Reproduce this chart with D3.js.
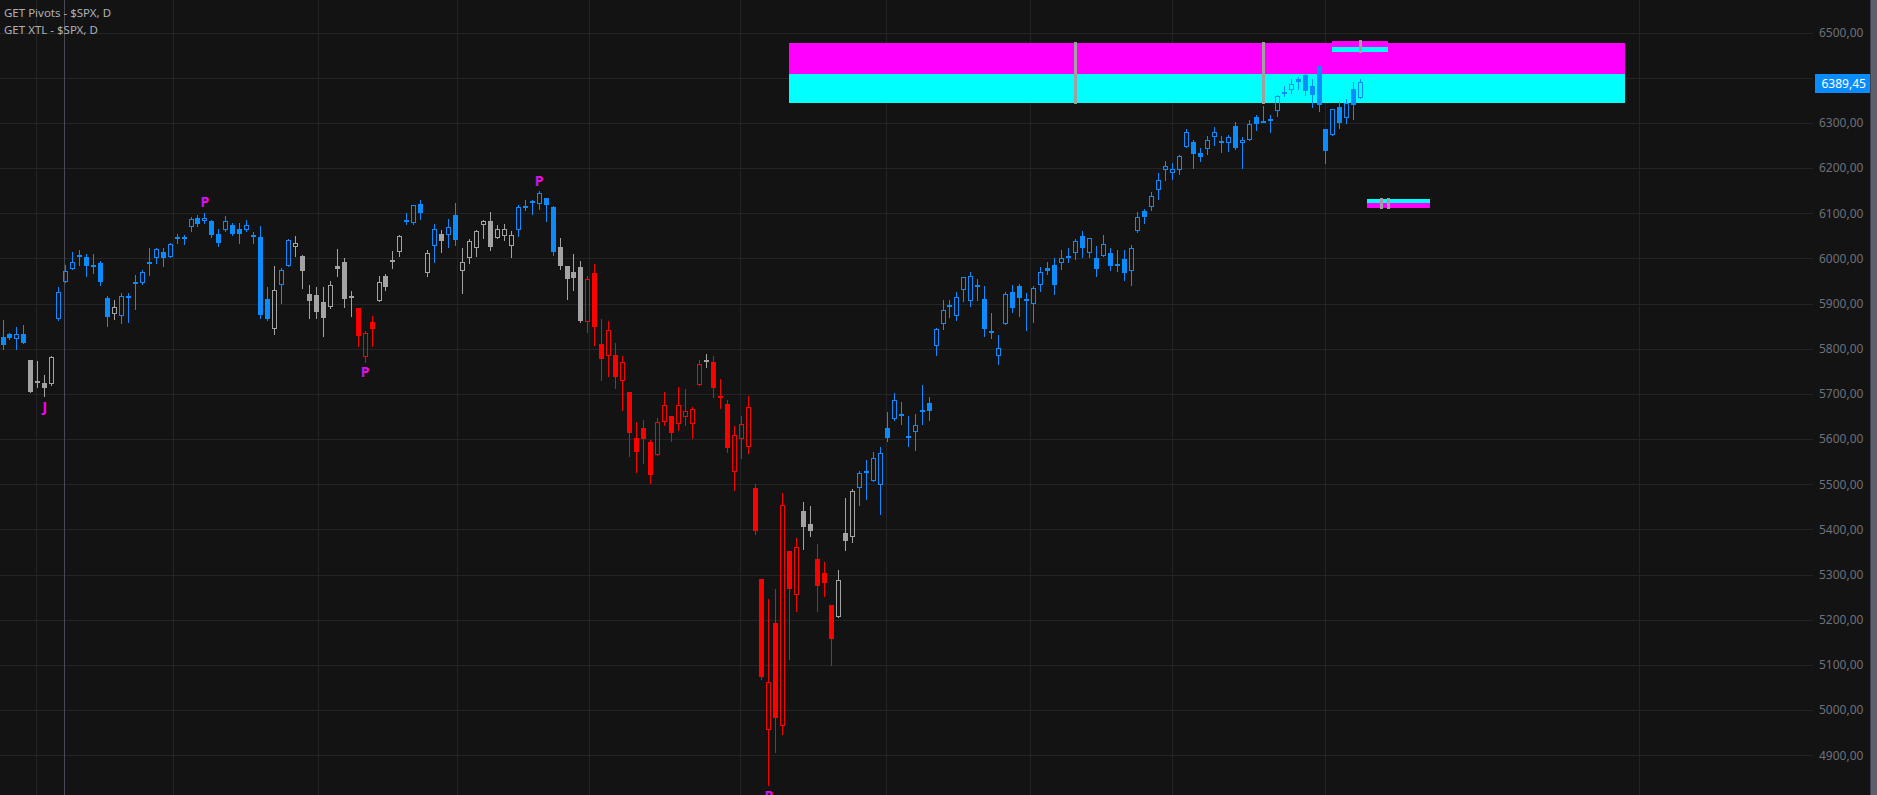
<!DOCTYPE html>
<html><head><meta charset="utf-8">
<script src="https://cdn.jsdelivr.net/npm/d3@7"></script>
<style>
html,body{margin:0;padding:0;background:#131313;overflow:hidden}
svg{display:block}
</style></head><body>
<svg id="c" width="1877" height="795"></svg>
<script>
// ---------- DATA (S&P 500 daily) ----------
const opens = [5825,5833,5821,5833,5775,5723,5723,5722,5865,5948,5977,6007,6003,5985,5989,5912,5876,5872,5917,5943,
5945,5988,6000,6013,6004,6042,6044,6070,6089,6082,6083,6055,6063,6073,6066,6063,6052,6047,5911,5843,
5940,5984,6026,6005,5921,5919,5903,5892,5983,5992,5912,5889,5782,5859,5906,5962,5996,6015,6082,6078,
6120,5968,6028,6055,6051,6096,5971,6000,6022,6073,6083,6046,6050,6027,6062,6113,6122,6120,6134,6114,
6025,5982,5970,5981,5858,5968,5810,5783,5785,5728,5704,5602,5624,5593,5564,5637,5652,5633,5648,5633,
5719,5771,5770,5695,5677,5528,5599,5582,5491,5289,4955,5192,4965,5351,5255,5440,5411,5334,5303,5232,
5207,5393,5382,5491,5526,5508,5499,5624,5645,5655,5606,5615,5662,5679,5807,5854,5893,5872,5929,5905,
5942,5909,5840,5783,5854,5925,5938,5905,5898,5940,5978,5985,5989,6003,6011,6049,6011,6000,6005,6011,
5987,5998,5971,6061,6105,6113,6152,6195,6188,6195,6247,6257,6233,6243,6268,6257,6256,6294,6255,6263,
6312,6304,6306,6327,6366,6372,6396,6405,6381,6426,6286,6272,6336,6310,6374,6356];
const highs = [5864,5835,5847,5852,5776,5773,5742,5784,5936,5985,6013,6019,6010,6010,5994,5917,5908,5923,5923,5963,
5974,6022,6024,6022,6035,6053,6052,6091,6096,6101,6085,6064,6094,6079,6078,6085,6058,6071,5937,5983,
5979,6042,6050,6007,5941,5937,5937,5950,6021,6001,5928,5889,5839,5872,5961,5965,6017,6052,6100,6118,
6129,6019,6076,6063,6086,6122,6022,6042,6063,6085,6103,6074,6076,6061,6118,6129,6129,6148,6134,6116,
6045,5982,6010,5994,5961,5987,5866,5861,5813,5784,5704,5638,5642,5598,5647,5704,5652,5715,5711,5671,
5775,5788,5784,5733,5686,5629,5651,5695,5500,5289,5245,5268,5480,5351,5380,5460,5451,5368,5327,5232,
5310,5469,5489,5529,5553,5571,5582,5659,5701,5683,5650,5655,5719,5692,5846,5908,5908,5925,5958,5970,
5954,5939,5879,5830,5925,5941,5943,5923,5939,5981,5992,6000,6019,6022,6042,6061,6044,6027,6052,6022,
6019,6019,6029,6102,6109,6146,6189,6216,6210,6228,6286,6262,6244,6271,6291,6271,6273,6302,6268,6307,
6317,6337,6317,6362,6381,6397,6402,6410,6397,6426,6286,6330,6347,6353,6390,6397];
const lows = [5799,5822,5799,5812,5703,5716,5695,5720,5863,5947,5976,5985,5960,5968,5941,5851,5865,5856,5860,5887,
5943,5963,5989,5984,6002,6035,6032,6061,6072,6079,6048,6028,6061,6052,6035,6060,6035,5867,5863,5832,
5902,5982,6006,5934,5869,5869,5829,5889,5960,5892,5873,5806,5771,5805,5906,5931,5978,6005,6075,6075,
6087,5961,5993,6013,6026,6030,5924,5990,6005,6046,6019,6044,6041,6002,6050,6108,6099,6110,6083,6008,
5976,5909,5931,5858,5838,5809,5731,5740,5712,5665,5563,5528,5546,5503,5564,5630,5596,5621,5631,5603,
5719,5760,5694,5669,5572,5488,5557,5570,5390,5069,4833,4908,4948,5114,5220,5357,5386,5220,5253,5100,
5207,5354,5371,5455,5468,5506,5433,5596,5641,5634,5585,5576,5634,5643,5785,5844,5870,5864,5906,5894,
5908,5829,5824,5767,5854,5882,5873,5842,5860,5928,5966,5920,5977,5992,5999,6002,6004,5962,6005,5975,
5971,5951,5942,6059,6079,6106,6132,6174,6176,6187,6247,6201,6216,6231,6252,6236,6238,6241,6201,6261,
6285,6303,6280,6316,6360,6365,6375,6362,6336,6327,6212,6272,6289,6300,6309,6356];
const closes = [5808,5824,5832,5813,5704,5729,5714,5781,5926,5971,5993,6002,5984,5982,5948,5871,5892,5916,5914,5947,
5969,5991,6021,6000,6031,6047,6048,6087,6075,6089,6052,6035,6082,6053,6053,6073,6049,5874,5866,5929,
5974,6041,6035,5971,5906,5882,5869,5940,5976,5909,5917,5827,5834,5843,5948,5937,5993,6050,6085,6117,
6101,6011,6066,6039,6070,6041,5993,6038,6060,6082,6026,6064,6066,6051,6113,6115,6128,6144,6119,6013,
5984,5955,5957,5862,5954,5849,5778,5841,5738,5770,5614,5572,5599,5521,5637,5675,5614,5675,5661,5666,
5765,5774,5712,5692,5581,5610,5633,5670,5397,5074,5061,4983,5455,5269,5362,5406,5397,5275,5282,5158,
5287,5375,5484,5524,5529,5559,5568,5603,5686,5652,5604,5630,5664,5661,5843,5885,5896,5915,5958,5962,
5940,5844,5838,5801,5920,5889,5913,5909,5934,5969,5971,5940,6000,6005,6038,6022,6044,5977,6031,5984,
5982,5968,6024,6091,6092,6139,6173,6204,6197,6226,6279,6230,6225,6261,6279,6259,6268,6245,6263,6297,
6298,6305,6308,6359,6368,6387,6391,6371,6362,6340,6238,6330,6300,6343,6340,6389.45];
// trend state runs (colour of each bar), in order: [state, number of bars]
const stateRuns = [["up",4],["neutral",4],["up",8],["neutral",1],["up",22],["neutral",1],["up",2],["neutral",9],
["down",3],["neutral",4],["up",3],["neutral",1],["up",1],["neutral",1],["up",2],["neutral",8],["up",6],["neutral",4],
["down",17],["neutral",1],["down",13],["neutral",2],["down",3],["neutral",3],["up",73]];
// pivot labels: bar index, text, placement
const pivotBars = [6,29,52,77,110];
const pivotTexts = ["J","P","P","P","P"];
const pivotAbove = [false,true,false,true,false];
// price axis ticks
const priceTicks = [4900,5000,5100,5200,5300,5400,5500,5600,5700,5800,5900,6000,6100,6200,6300,6400,6500];
const lastPrice = 6389.45;
// session (month) separators, in bar units
const sessionBreaks = [4.85,24.53,45.35,65.32,84.28,105.92,126.92,147.61,168.0,189.97,235.03];
const markerBar = 8.83;
// XTL zones: start bar, end bar, upper, middle, lower price; upper band colour first
const zoneStart = [113,191,196];
const zoneEnd = [233,199,205];
const zoneTop = [6477,6481,6131];
const zoneMid = [6409,6469,6122.5];
const zoneBot = [6345,6457,6111.5];
const zoneUpperColor = ["#ff00ff","#ff00ff","#00ffff"];
const zoneLowerColor = ["#00ffff","#00ffff","#ff00ff"];
// grey pivot bars inside the zones
const gbarBar = [154,181,195,198,199];
const gbarTop = [6479,6479,6483,6134,6134];
const gbarBot = [6342,6342,6455,6109,6109];

// ---------- DRAW ----------
const W=1877,H=795;
const colors={up:"#0a8cff",neutral:"#a3a3a3",down:"#ff0000"};
const states=[]; stateRuns.forEach(([s,n])=>{for(let k=0;k<n;k++)states.push(s);});
const x=d3.scaleLinear().domain([0,195]).range([2.5,1360.3]);
const y=d3.scaleLinear().domain([4900,6500]).range([755.2,32.5]);
const svg=d3.select("#c");
const bg="#131313";
svg.append("rect").attr("width",W).attr("height",H).attr("fill",bg);

const defs=svg.append("defs");
const gr=defs.append("linearGradient").attr("id","pg").attr("x1","0").attr("x2","1").attr("y1","0").attr("y2","0");
gr.append("stop").attr("offset","0").attr("stop-color","#8a2ee6");
gr.append("stop").attr("offset","0.55").attr("stop-color","#ff00ff");

// grid
const grid=svg.append("g").attr("shape-rendering","crispEdges");
grid.selectAll("line.h").data(priceTicks).join("line").attr("class","h")
 .attr("x1",0).attr("x2",1813).attr("y1",d=>Math.round(y(d))+0.5).attr("y2",d=>Math.round(y(d))+0.5)
 .attr("stroke","#232428");
grid.selectAll("line.v").data(sessionBreaks).join("line").attr("class","v")
 .attr("x1",d=>Math.round(x(d))+0.5).attr("x2",d=>Math.round(x(d))+0.5).attr("y1",0).attr("y2",H)
 .attr("stroke","#232428");
grid.append("line").attr("x1",Math.round(x(markerBar))+0.5).attr("x2",Math.round(x(markerBar))+0.5)
 .attr("y1",0).attr("y2",H).attr("stroke","#474a53");

// zones (behind candles)
const zg=svg.append("g").attr("shape-rendering","crispEdges");
zoneStart.forEach((s,k)=>{
  const x0=Math.round(x(s)), x1=Math.round(x(zoneEnd[k]));
  const yt=Math.round(y(zoneTop[k])), ym=Math.round(y(zoneMid[k])), yb=Math.round(y(zoneBot[k]));
  zg.append("rect").attr("x",x0).attr("y",yt).attr("width",x1-x0).attr("height",ym-yt).attr("fill",zoneUpperColor[k]);
  zg.append("rect").attr("x",x0).attr("y",ym).attr("width",x1-x0).attr("height",yb-ym).attr("fill",zoneLowerColor[k]);
});
// grey bars
zg.selectAll("rect.g").data(gbarBar).join("rect").attr("class","g")
 .attr("x",d=>Math.round(x(d))-1).attr("width",3)
 .attr("y",(d,k)=>Math.round(y(gbarTop[k]))).attr("height",(d,k)=>Math.round(y(gbarBot[k]))-Math.round(y(gbarTop[k])))
 .attr("fill","#a0a0a0");

// candles
const data=opens.map((o,i)=>{
  const cx=Math.round(x(i));
  const yT=Math.round(y(Math.max(o,closes[i]))), yB=Math.round(y(Math.min(o,closes[i])));
  return {i,o,h:highs[i],l:lows[i],c:closes[i],s:states[i],cx,yT,yB:Math.max(yB,yT+1),
          yH:Math.round(y(highs[i])),yL:Math.round(y(lows[i]))};
});
const cg=svg.append("g").attr("shape-rendering","crispEdges");
cg.selectAll("line.wu").data(data).join("line").attr("class","wu")
 .attr("x1",d=>d.cx+0.5).attr("x2",d=>d.cx+0.5)
 .attr("y1",d=>d.yH).attr("y2",d=>d.yT)
 .attr("stroke",d=>colors[d.s]);
cg.selectAll("line.wl").data(data).join("line").attr("class","wl")
 .attr("x1",d=>d.cx+0.5).attr("x2",d=>d.cx+0.5)
 .attr("y1",d=>d.yB).attr("y2",d=>Math.max(d.yL+1,d.yB))
 .attr("stroke",d=>colors[d.s]);
cg.selectAll("rect.f").data(data.filter(d=>d.c<d.o)).join("rect").attr("class","f")
 .attr("x",d=>d.cx-2).attr("width",5)
 .attr("y",d=>d.yT)
 .attr("height",d=>Math.max(2,d.yB-d.yT))
 .attr("fill",d=>colors[d.s]);
cg.selectAll("rect.e").data(data.filter(d=>d.c>=d.o)).join("rect").attr("class","e")
 .attr("x",d=>d.cx-1.5).attr("width",4)
 .attr("y",d=>d.yT+0.5)
 .attr("height",d=>Math.max(1,d.yB-d.yT-1))
 .attr("fill","none").attr("stroke",d=>colors[d.s]).attr("stroke-width",1);

// pivot labels
svg.append("g").selectAll("text").data(pivotBars).join("text")
 .attr("x",d=>x(d)+0.5)
 .attr("y",(d,k)=>pivotAbove[k]? y(highs[d])-11 : y(lows[d])+10)
 .attr("text-anchor","middle").attr("dominant-baseline","central")
 .attr("font-family","'Noto Sans',sans-serif").attr("font-weight","bold").attr("font-size",14)
 .attr("fill","url(#pg)").text((d,k)=>pivotTexts[k]);

// titles
const tg=svg.append("g").attr("font-family","'Noto Sans',sans-serif").attr("font-size",11.5).attr("fill","#aeb1b8");
tg.append("text").attr("x",4).attr("y",16.7).text("GET Pivots - $SPX, D");
tg.append("text").attr("x",4).attr("y",34.3).text("GET XTL - $SPX, D");

// price axis (labels hidden where the last-price tag sits)
const loc=d3.formatLocale({decimal:",",thousands:".",grouping:[3],currency:["",""]});
const fmt=loc.format(".2f");
const ly=y(lastPrice);
const labelTicks=priceTicks.filter(v=>Math.abs(y(v)-ly)>16);
const ax=svg.append("g").attr("transform","translate(1819,0)")
 .call(d3.axisRight(y).tickValues(labelTicks).tickFormat(fmt).tickSize(0).tickPadding(0));
ax.select(".domain").remove();
ax.selectAll("text").attr("font-family","'Noto Sans',sans-serif").attr("font-size",12).attr("fill","#6c717d");

// last price label
svg.append("rect").attr("x",1815).attr("y",Math.round(ly-8.5)).attr("width",55).attr("height",19).attr("fill","#0a8cff");
svg.append("text").attr("x",1821.5).attr("y",ly+1).attr("dominant-baseline","central")
 .attr("font-family","'Noto Sans',sans-serif").attr("font-size",12).attr("fill","#ffffff").text(fmt(lastPrice));

// right scroll bar
svg.append("rect").attr("x",1870).attr("y",0).attr("width",7).attr("height",H).attr("fill","#5c5f6c");
svg.append("rect").attr("x",1870).attr("y",0).attr("width",1).attr("height",H).attr("fill","#3e414c");
</script>
</body></html>
